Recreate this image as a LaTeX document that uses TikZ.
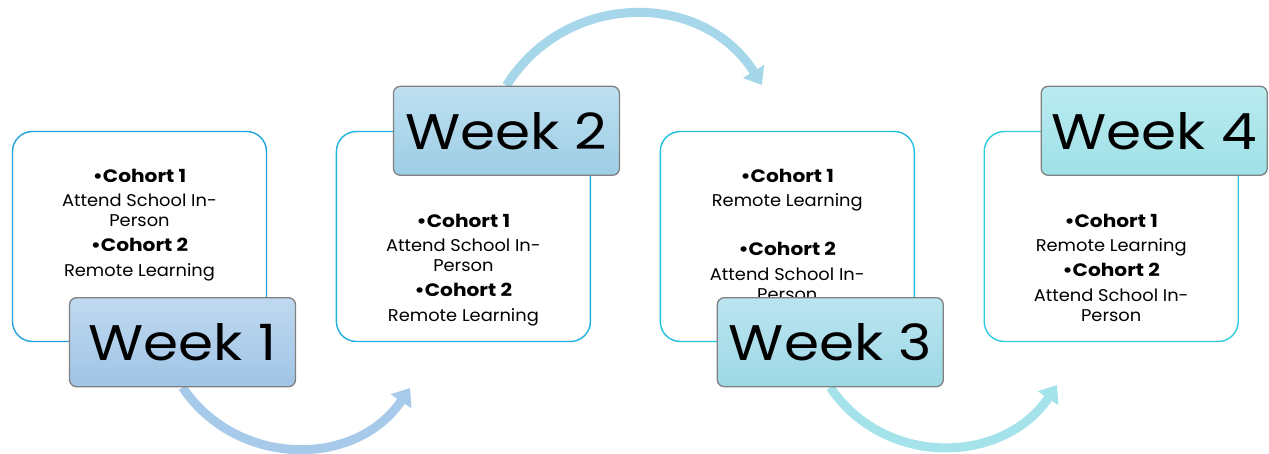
\documentclass[tikz,border=0pt]{standalone}
\usepackage{fontspec}
\setmainfont[FakeStretch=1.05]{Poppins}
\newfontfamily\weekfont[FakeStretch=1.13]{Poppins}
\newfontfamily\cohortfont[FakeStretch=1.12]{Poppins}
\usetikzlibrary{positioning}
\usetikzlibrary{arrows.meta}
\usetikzlibrary{backgrounds}

\definecolor{edgeA}{HTML}{22A3DF}
\definecolor{edgeB}{HTML}{1FB1DF}
\definecolor{edgeC}{HTML}{20BEE0}
\definecolor{edgeD}{HTML}{2DCCE0}
\definecolor{topA}{HTML}{C0D9F0}
\definecolor{botA}{HTML}{9FC4E6}
\definecolor{topB}{HTML}{BEE0F0}
\definecolor{botB}{HTML}{9DCDE5}
\definecolor{topC}{HTML}{BBE5F0}
\definecolor{botC}{HTML}{9CD8E5}
\definecolor{topD}{HTML}{BAEBF0}
\definecolor{botD}{HTML}{9EE1E6}
\definecolor{flowA}{HTML}{A7C9EA}
\definecolor{flowB}{HTML}{A6D6EA}
\definecolor{flowC}{HTML}{A5E3EA}

\newcommand{\cohort}[1]{{\cohortfont\bfseries\fontsize{18}{20}\selectfont •Cohort #1}}

\begin{document}
\begin{tikzpicture}[x=1pt, y=1pt,
  panel/.style={draw=#1, line width=1.4pt, rounded corners=20pt, minimum width=254pt, minimum height=210pt, fill=white},
  weekbox/.style 2 args={draw=black!50, line width=1.3pt, rounded corners=7pt, minimum width=226pt, minimum height=89pt, top color=#1, bottom color=#2, font=\weekfont\fontsize{50}{60}\selectfont},
  items/.style={anchor=north, align=center, inner sep=0pt, font=\fontsize{17}{20}\selectfont},
  flow/.style={draw=#1, line width=9pt, -{Triangle[width=24pt,length=16pt]}}]

\useasboundingbox (0,0) rectangle (1269,454);

% the four panels
\node[panel=edgeA] (p1) at (139.5,217.5) {};
\node[panel=edgeB, right=68.5pt of p1] (p2) {};
\node[panel=edgeC, right=68.5pt of p2] (p3) {};
\node[panel=edgeD, right=68.5pt of p3] (p4) {};

\node[items] (t1) at ([yshift=-38pt]p1.north) {\cohort{1}\\[4pt] Attend School In-\\ Person\\[5pt] \cohort{2}\\[5pt] Remote Learning};
\node[items] (t2) at ([yshift=-83pt]p2.north) {\cohort{1}\\[4pt] Attend School In-\\ Person\\[5pt] \cohort{2}\\[5pt] Remote Learning};
\node[items] (t3) at ([yshift=-38pt]p3.north) {\cohort{1}\\[4pt] Remote Learning\\[29pt] \cohort{2}\\[5pt] Attend School In-\\ Person};
\node[items] (t4) at ([yshift=-83pt]p4.north) {\cohort{1}\\[4pt] Remote Learning\\[5pt] \cohort{2}\\[5pt] Attend School In-\\ Person};

% week labels on the panel edges
\node[weekbox={topA}{botA}] (w1) at ([xshift=43pt]p1.south) {Week 1};
\node[weekbox={topB}{botB}] (w2) at ([xshift=43pt]p2.north) {Week 2};
\node[weekbox={topC}{botC}] (w3) at ([xshift=43pt]p3.south) {Week 3};
\node[weekbox={topD}{botD}] (w4) at ([xshift=43pt]p4.north) {Week 4};

\coordinate (e1) at (410,66);
\coordinate (e2) at (762,369);
\coordinate (e3) at (1057,69);

\begin{scope}[on background layer]
\draw[flow=flowA] (w1.south) to[out=-56, in=-124, looseness=1.09] (e1);
\draw[flow=flowB] (w2.north) to[out=58, in=122, looseness=1.12] (e2);
\draw[flow=flowC] (w3.south) to[out=-56, in=-124, looseness=1.09] (e3);
\end{scope}

\end{tikzpicture}
\end{document}
